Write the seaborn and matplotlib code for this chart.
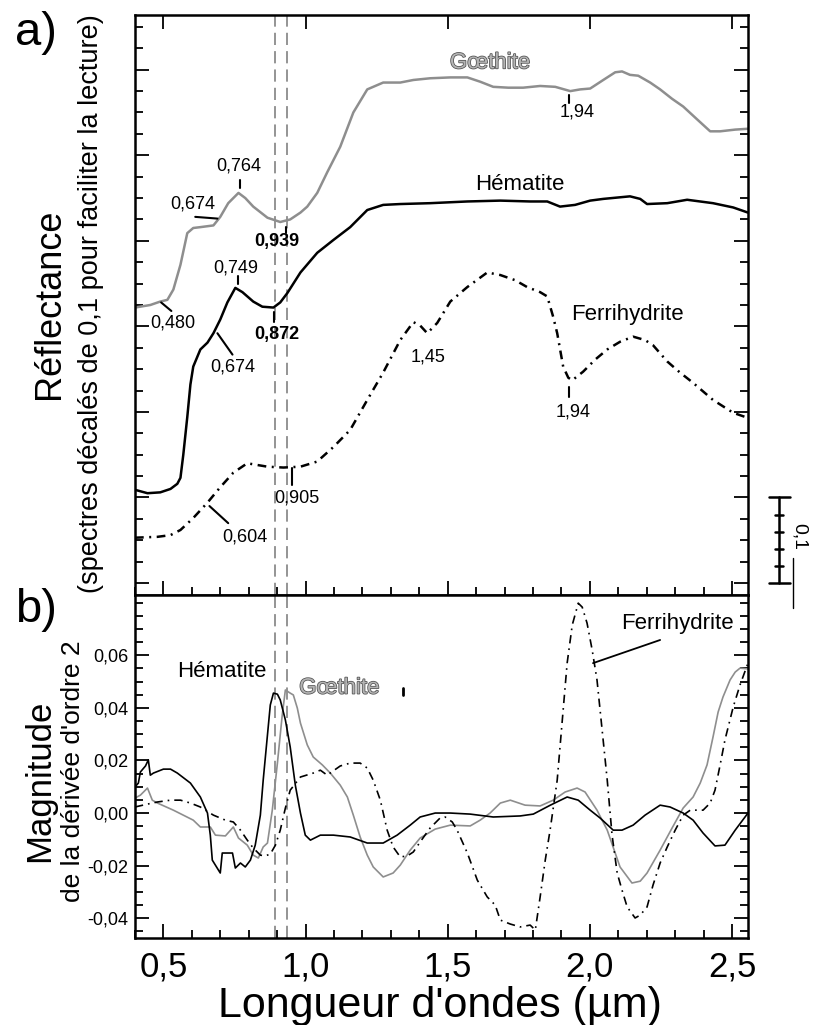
import matplotlib
matplotlib.use("Agg")
import numpy as np
import pandas as pd
import matplotlib.pyplot as plt
import matplotlib.patheffects as pe
from matplotlib.ticker import MultipleLocator, FixedLocator, FuncFormatter
import seaborn as sns

sns.set_theme(style="ticks")
plt.rcParams["font.family"] = ["Liberation Sans", "DejaVu Sans"]
plt.rcParams["axes.unicode_minus"] = False
plt.rcParams["text.color"] = "black"
plt.rcParams["xtick.color"] = "black"
plt.rcParams["ytick.color"] = "black"

# ---- a) reflectance spectra (offset by 0.1 for readability) ----
goe_wl = [0.400, 0.454, 0.489, 0.514, 0.535, 0.560, 0.584, 0.605, 0.630, 0.676, 0.700, 0.728, 0.764, 0.788,
          0.816, 0.866, 0.911, 0.946, 0.982, 1.006, 1.041, 1.076, 1.122, 1.168, 1.217, 1.273, 1.333, 1.379,
          1.438, 1.509, 1.569, 1.614, 1.660, 1.713, 1.765, 1.825, 1.878, 1.931, 1.966, 2.001, 2.047, 2.089,
          2.113, 2.141, 2.170, 2.212, 2.247, 2.289, 2.328, 2.377, 2.423, 2.458, 2.511, 2.556]
goe_refl = [0.322, 0.325, 0.329, 0.331, 0.343, 0.372, 0.409, 0.415, 0.416, 0.418, 0.428, 0.444, 0.456, 0.450,
            0.440, 0.427, 0.422, 0.425, 0.433, 0.440, 0.456, 0.480, 0.510, 0.550, 0.577, 0.585, 0.585, 0.588,
            0.590, 0.591, 0.591, 0.586, 0.580, 0.579, 0.579, 0.581, 0.580, 0.575, 0.577, 0.578, 0.588, 0.597,
            0.598, 0.594, 0.593, 0.585, 0.577, 0.566, 0.557, 0.542, 0.528, 0.528, 0.530, 0.531]

hem_wl = [0.400, 0.444, 0.489, 0.525, 0.549, 0.560, 0.570, 0.584, 0.595, 0.605, 0.630, 0.655, 0.676, 0.700,
          0.725, 0.753, 0.778, 0.816, 0.848, 0.887, 0.911, 0.936, 0.982, 1.041, 1.098, 1.157, 1.217, 1.273,
          1.333, 1.438, 1.569, 1.685, 1.790, 1.850, 1.895, 1.948, 2.001, 2.047, 2.141, 2.177, 2.201, 2.272,
          2.342, 2.433, 2.504, 2.556]
hem_refl = [0.109, 0.105, 0.106, 0.110, 0.116, 0.123, 0.150, 0.194, 0.232, 0.253, 0.273, 0.281, 0.292, 0.308,
            0.328, 0.345, 0.340, 0.329, 0.323, 0.322, 0.328, 0.339, 0.363, 0.386, 0.401, 0.416, 0.436, 0.442,
            0.443, 0.444, 0.446, 0.447, 0.446, 0.446, 0.440, 0.442, 0.447, 0.449, 0.452, 0.449, 0.443, 0.444,
            0.448, 0.444, 0.439, 0.433]

fer_wl = [0.400, 0.479, 0.525, 0.560, 0.605, 0.655, 0.700, 0.746, 0.795, 0.830, 0.866, 0.922, 0.982, 1.041,
          1.098, 1.157, 1.217, 1.273, 1.333, 1.379, 1.403, 1.428, 1.463, 1.509, 1.569, 1.639, 1.685, 1.737,
          1.779, 1.825, 1.850, 1.871, 1.885, 1.906, 1.924, 1.938, 1.976, 2.018, 2.061, 2.106, 2.152, 2.194,
          2.222, 2.272, 2.317, 2.363, 2.433, 2.504, 2.556]
fer_refl = [0.053, 0.054, 0.056, 0.062, 0.076, 0.094, 0.112, 0.129, 0.140, 0.138, 0.136, 0.135, 0.136, 0.142,
            0.159, 0.179, 0.214, 0.246, 0.284, 0.305, 0.301, 0.292, 0.304, 0.329, 0.346, 0.363, 0.360, 0.354,
            0.346, 0.340, 0.335, 0.311, 0.292, 0.253, 0.240, 0.237, 0.247, 0.261, 0.273, 0.282, 0.288, 0.284,
            0.278, 0.259, 0.246, 0.234, 0.214, 0.199, 0.193]

# ---- b) second derivative ----
hem_d2_wl = [0.400, 0.412, 0.419, 0.437, 0.447, 0.454, 0.465, 0.500, 0.525, 0.549, 0.595, 0.630, 0.655, 0.665,
             0.672, 0.700, 0.707, 0.743, 0.753, 0.771, 0.788, 0.806, 0.823, 0.841, 0.851, 0.866, 0.876, 0.887,
             0.901, 0.911, 0.929, 0.946, 0.964, 0.982, 0.999, 1.017, 1.052, 1.098, 1.157, 1.217, 1.273, 1.322,
             1.368, 1.403, 1.456, 1.509, 1.579, 1.660, 1.755, 1.801, 1.861, 1.920, 1.959, 2.001, 2.036, 2.082,
             2.113, 2.152, 2.194, 2.247, 2.282, 2.328, 2.363, 2.398, 2.440, 2.475, 2.511, 2.556]
hem_d2 = [0.0099, 0.0114, 0.0156, 0.0179, 0.0202, 0.0144, 0.0152, 0.0167, 0.0167, 0.0152, 0.0114, 0.0061,
          0.0, -0.0084, -0.0179, -0.0228, -0.0152, -0.0152, -0.0209, -0.019, -0.0205, -0.0179, -0.0122,
          -0.0008, 0.0125, 0.0297, 0.0411, 0.0456, 0.0452, 0.043, 0.0354, 0.0251, 0.0106, 0.0, -0.0084,
          -0.0103, -0.0084, -0.0084, -0.0091, -0.0114, -0.0114, -0.0084, -0.0046, -0.0015, 0.0, 0.0, -0.0004,
          -0.0015, -0.0011, -0.0004, 0.003, 0.0061, 0.0049, 0.0011, -0.0019, -0.0065, -0.0065, -0.0046,
          -0.0008, 0.003, 0.0023, 0.0, -0.0027, -0.0076, -0.0125, -0.0122, -0.0065, 0.0]

goe_d2_wl = [0.400, 0.419, 0.444, 0.461, 0.479, 0.535, 0.605, 0.630, 0.665, 0.683, 0.718, 0.746, 0.764, 0.795,
             0.816, 0.834, 0.851, 0.866, 0.883, 0.901, 0.918, 0.929, 0.946, 0.957, 0.971, 0.982, 1.006, 1.027,
             1.059, 1.087, 1.122, 1.147, 1.168, 1.192, 1.217, 1.238, 1.273, 1.308, 1.333, 1.368, 1.403, 1.456,
             1.509, 1.579, 1.614, 1.649, 1.685, 1.720, 1.772, 1.825, 1.871, 1.913, 1.955, 1.983, 2.025, 2.061,
             2.106, 2.148, 2.177, 2.201, 2.247, 2.289, 2.328, 2.363, 2.388, 2.412, 2.433, 2.451, 2.468, 2.493,
             2.511, 2.528, 2.556]
goe_d2 = [0.0057, 0.0068, 0.0095, 0.0049, 0.0038, 0.0011, -0.0027, -0.0053, -0.0053, -0.0084, -0.0087, -0.0053,
          -0.0095, -0.0122, -0.016, -0.0171, -0.0129, -0.0114, 0.0011, 0.019, 0.0373, 0.0468, 0.0456, 0.0449,
          0.0399, 0.0342, 0.0259, 0.0213, 0.0183, 0.0152, 0.0106, 0.0061, -0.0008, -0.0091, -0.016, -0.0205,
          -0.0243, -0.0228, -0.0198, -0.0141, -0.0095, -0.0061, -0.0046, -0.0049, -0.0027, 0.0, 0.0038, 0.0049,
          0.003, 0.0027, 0.0049, 0.008, 0.0095, 0.008, 0.0011, -0.0065, -0.0205, -0.0266, -0.0259, -0.0228,
          -0.0141, -0.0057, 0.0019, 0.0061, 0.0114, 0.0183, 0.0289, 0.0384, 0.0441, 0.0506, 0.0536, 0.0551,
          0.0548]

fer_d2_wl = [0.400, 0.444, 0.479, 0.525, 0.560, 0.595, 0.630, 0.676, 0.718, 0.746, 0.771, 0.795, 0.816, 0.841,
             0.858, 0.876, 0.894, 0.911, 0.929, 0.946, 0.982, 1.027, 1.052, 1.076, 1.122, 1.157, 1.192, 1.217,
             1.238, 1.263, 1.287, 1.308, 1.333, 1.358, 1.379, 1.403, 1.438, 1.473, 1.491, 1.516, 1.533, 1.569,
             1.604, 1.639, 1.667, 1.685, 1.720, 1.755, 1.790, 1.808, 1.825, 1.843, 1.860, 1.885, 1.903, 1.920,
             1.938, 1.959, 1.973, 1.990, 2.008, 2.025, 2.043, 2.061, 2.078, 2.096, 2.113, 2.131, 2.159, 2.177,
             2.201, 2.222, 2.247, 2.272, 2.300, 2.328, 2.353, 2.398, 2.423, 2.440, 2.458, 2.475, 2.504, 2.528,
             2.556]
fer_d2 = [0.0023, 0.0034, 0.0042, 0.0049, 0.0049, 0.0038, 0.0023, -0.0008, -0.0027, -0.0034, -0.0065, -0.0103,
          -0.0133, -0.016, -0.0163, -0.0156, -0.0122, -0.0065, 0.0019, 0.0087, 0.0137, 0.0152, 0.0163, 0.0144,
          0.0179, 0.019, 0.019, 0.0171, 0.0125, 0.0049, -0.0065, -0.0129, -0.0167, -0.0163, -0.0148, -0.011,
          -0.0057, -0.0019, -0.0015, -0.0034, -0.0065, -0.0152, -0.0255, -0.0319, -0.035, -0.0407, -0.0422,
          -0.0433, -0.0426, -0.0445, -0.0319, -0.0179, -0.0065, 0.0125, 0.0354, 0.057, 0.0715, 0.0798, 0.0783,
          0.0722, 0.062, 0.0506, 0.0316, 0.0125, -0.0084, -0.0228, -0.0293, -0.0357, -0.0399, -0.0388, -0.0357,
          -0.0274, -0.019, -0.0129, -0.0065, -0.0008, 0.0011, 0.0011, 0.0038, 0.0087, 0.0183, 0.0278, 0.0403,
          0.0487, 0.057]

minerals = ["Gœthite", "Hématite", "Ferrihydrite"]
absorption_lines = [0.891, 0.933]

GREY = "#8e8e8e"
palette = {"Gœthite": GREY, "Hématite": "black", "Ferrihydrite": "black"}


def long_form(pairs):
    frames = [pd.DataFrame({"wl": w, "val": v, "mineral": name}) for name, (w, v) in zip(minerals, pairs)]
    return pd.concat(frames, ignore_index=True)


df_a = long_form([(goe_wl, goe_refl), (hem_wl, hem_refl), (fer_wl, fer_refl)])
df_b = long_form([(goe_d2_wl, goe_d2), (hem_d2_wl, hem_d2), (fer_d2_wl, fer_d2)])

fig = plt.figure(figsize=(8.14, 10.25), dpi=100)
ax_a = fig.add_axes([0.1658, 0.4195, 0.7531, 0.5659])
ax_b = fig.add_axes([0.1658, 0.0849, 0.7531, 0.3346])

sns.lineplot(data=df_a, x="wl", y="val", hue="mineral", style="mineral", palette=palette,
             dashes={"Gœthite": "", "Hématite": "", "Ferrihydrite": (3.5, 2.2, 0.8, 2.2)},
             estimator=None, sort=False, legend=False, linewidth=1.8, ax=ax_a)
sns.lineplot(data=df_b, x="wl", y="val", hue="mineral", style="mineral", palette=palette,
             dashes={"Gœthite": "", "Hématite": "", "Ferrihydrite": (5, 3, 1, 3)},
             estimator=None, sort=False, legend=False, linewidth=1.2, ax=ax_b)

comma = lambda fmt: FuncFormatter(lambda v, p: (fmt % v).replace(".", ",").replace("-0,00", "0,00"))

for ax in (ax_a, ax_b):
    ax.set(xlabel="", ylabel="")
    ax.set_xlim(0.40, 2.556)
    ax.xaxis.set_major_locator(MultipleLocator(0.5))
    ax.xaxis.set_minor_locator(MultipleLocator(0.1))
    ax.tick_params(which="both", direction="in", right=True, width=1.3, color="black")
    ax.tick_params(which="major", length=10)
    ax.tick_params(which="minor", length=5.5)
    for s in ax.spines.values():
        s.set_linewidth(1.8)
        s.set_color("black")
    for x in absorption_lines:
        ax.axvline(x, color="#777777", lw=1.1, dashes=(8, 4), zorder=0)

ax_a.set_ylim(-0.014, 0.664)
ax_a.yaxis.set_major_locator(MultipleLocator(0.1))
ax_a.yaxis.set_minor_locator(MultipleLocator(0.025))
ax_a.tick_params(top=True, labelbottom=False, labelleft=False)

ax_b.set_ylim(-0.0475, 0.0829)
ax_b.yaxis.set_major_locator(FixedLocator([-0.04, -0.02, 0.0, 0.02, 0.04, 0.06]))
ax_b.yaxis.set_minor_locator(FixedLocator(np.arange(-0.045, 0.0801, 0.005)))
ax_b.tick_params(top=False)
ax_b.tick_params(axis="y", labelsize=13, pad=5)
ax_b.tick_params(axis="x", labelsize=25, pad=9)
ax_b.xaxis.set_major_formatter(comma("%.1f"))
ax_b.yaxis.set_major_formatter(comma("%.2f"))

outline = [pe.withStroke(linewidth=1.1, foreground="#505050")]


def mark(ax, x, y0, y1, label, tx, ty, bold=False):
    ax.plot([x, x] if np.isscalar(x) else x, [y0, y1], color="black", lw=1.5)
    ax.text(tx, ty, label, ha="center", va="center", fontsize=13,
            fontweight="bold" if bold else "normal")


# panel a annotations
mark(ax_a, 0.770, 0.462, 0.471, "0,764", 0.764, 0.488)
mark(ax_a, [0.612, 0.690], 0.428, 0.426, "0,674", 0.602, 0.443)
mark(ax_a, 0.932, 0.409, 0.416, "0,939", 0.900, 0.399, bold=True)
mark(ax_a, [0.492, 0.528], 0.328, 0.318, "0,480", 0.532, 0.304)
mark(ax_a, 0.764, 0.350, 0.359, "0,749", 0.753, 0.368)
mark(ax_a, 0.890, 0.305, 0.317, "0,872", 0.900, 0.290, bold=True)
mark(ax_a, [0.690, 0.743], 0.292, 0.267, "0,674", 0.743, 0.2526)
mark(ax_a, 0.953, 0.115, 0.1345, "0,905", 0.971, 0.099)
mark(ax_a, [0.662, 0.728], 0.090, 0.070, "0,604", 0.785, 0.054)
ax_a.text(1.431, 0.264, "1,45", ha="center", va="center", fontsize=13)
mark(ax_a, 1.927, 0.2175, 0.229, "1,94", 1.941, 0.200)
mark(ax_a, 1.927, 0.561, 0.571, "1,94", 1.955, 0.550)
ax_a.text(1.649, 0.608, "Gœthite", ha="center", va="center", fontsize=16, color="#b4b4b4",
          path_effects=outline)
ax_a.text(1.755, 0.4655, "Hématite", ha="center", va="center", fontsize=16)
ax_a.text(2.131, 0.3135, "Ferrihydrite", ha="center", va="center", fontsize=16)

# scale bar (0.1 reflectance)
sb = dict(color="black", lw=1.8, clip_on=False)
ax_a.plot([2.665, 2.665], [0.0, 0.1], **sb)
for yv in (0.0, 0.1):
    ax_a.plot([2.630, 2.704], [yv, yv], **sb)
for yv in (0.02, 0.04, 0.06, 0.08):
    ax_a.plot([2.651, 2.679], [yv, yv], **sb)
ax_a.text(2.735, 0.054, "0,1", rotation=270, ha="center", va="center", fontsize=14, clip_on=False)
ax_a.plot([2.714, 2.714], [0.029, -0.029], color="black", lw=1.0, clip_on=False)

# panel b annotations
ax_b.text(0.707, 0.054, "Hématite", ha="center", va="center", fontsize=16)
ax_b.text(1.119, 0.0475, "Gœthite", ha="center", va="center", fontsize=16, color="#b4b4b4",
          path_effects=outline)
ax_b.plot([1.344, 1.344], [0.0449, 0.0475], color="black", lw=2)
ax_b.text(2.307, 0.0722, "Ferrihydrite", ha="center", va="center", fontsize=16)
ax_b.plot([2.247, 2.011], [0.0658, 0.057], color="black", lw=1.3)

# panel letters and axis titles
fig.text(0.018, 0.968, "a)", fontsize=34, ha="left", va="center")
fig.text(0.018, 0.405, "b)", fontsize=34, ha="left", va="center")
fig.text(0.061, 0.704, "Réflectance", rotation=90, fontsize=26, ha="center", va="center")
fig.text(0.112, 0.704, "(spectres décalés de 0,1 pour faciliter la lecture)", rotation=90,
         fontsize=19.5, ha="center", va="center")
fig.text(0.049, 0.238, "Magnitude", rotation=90, fontsize=25, ha="center", va="center")
fig.text(0.0895, 0.248, "de la dérivée d'ordre 2", rotation=90, fontsize=19, ha="center", va="center")
fig.text(0.54, 0.0185, "Longueur d'ondes (µm)", fontsize=31, ha="center", va="center")

fig.savefig("out.png", dpi=100)
